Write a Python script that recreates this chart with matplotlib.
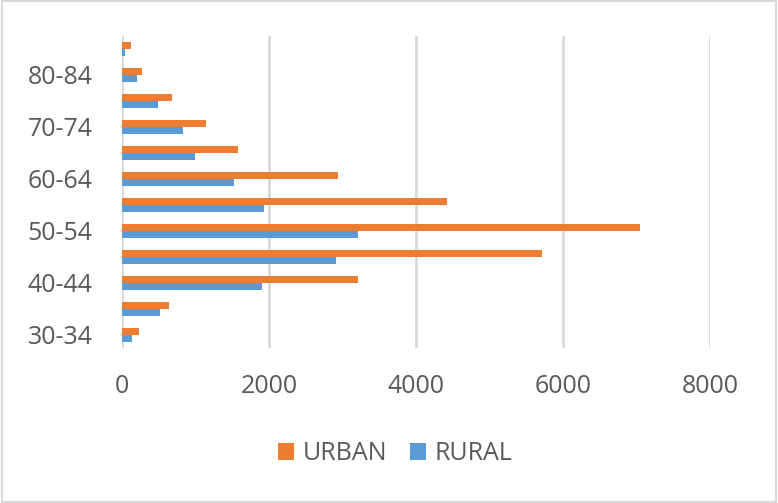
import numpy as np
import matplotlib
matplotlib.use("Agg")
import matplotlib.pyplot as plt
from matplotlib.patches import Rectangle

# age groups, bottom to top
ages = ["30-34", "35-39", "40-44", "45-49", "50-54", "55-59",
        "60-64", "65-69", "70-74", "75-79", "80-84", "85+"]
urban = [236, 640, 3207, 5720, 7053, 4422, 2939, 1578, 1148, 676, 277, 118]
rural = [136, 517, 1910, 2917, 3216, 1932, 1529, 989, 826, 490, 200, 41]
xticks = [0, 2000, 4000, 6000, 8000]

plt.rcParams['font.family'] = ['Open Sans', 'DejaVu Sans']
txt = "#595959"
grid_c = "#D9D9D9"

fig = plt.figure(figsize=(7.78, 5.03), dpi=100)
ax = fig.add_axes([122/778, 1-348/503, (710-122)/778, (348-36)/503])

y = np.arange(len(ages))
h = 0.27
ax.barh(y + h/2, urban, height=h, color="#ED7D31", label="URBAN", zorder=3)
ax.barh(y - h/2, rural, height=h, color="#5B9BD5", label="RURAL", zorder=3)

ax.set_xlim(0, 8000)
ax.set_ylim(-0.5, len(ages) - 0.5)
ax.set_xticks(xticks)
ax.set_xticklabels([str(v) for v in xticks])
ax.set_yticks(y[::2])
ax.set_yticklabels(ages[::2])
ax.tick_params(axis="both", length=0, labelsize=18, colors=txt)
ax.tick_params(axis="y", pad=21)
ax.tick_params(axis="x", pad=19)
ax.grid(axis="x", color=grid_c, linewidth=2, zorder=0)
for s in ax.spines.values():
    s.set_visible(False)

ax.legend(loc="center", bbox_to_anchor=(395/778, 1-454/503), bbox_transform=fig.transFigure,
          ncol=2, frameon=False, fontsize=18, labelcolor=txt,
          handlelength=0.65, handleheight=0.65, handletextpad=0.35, columnspacing=0.9)

fig.patches.append(Rectangle((0.002, 0.002), 0.996, 0.996, transform=fig.transFigure,
                             fill=False, edgecolor=grid_c, linewidth=1.5))

fig.savefig("out.png", dpi=100)
